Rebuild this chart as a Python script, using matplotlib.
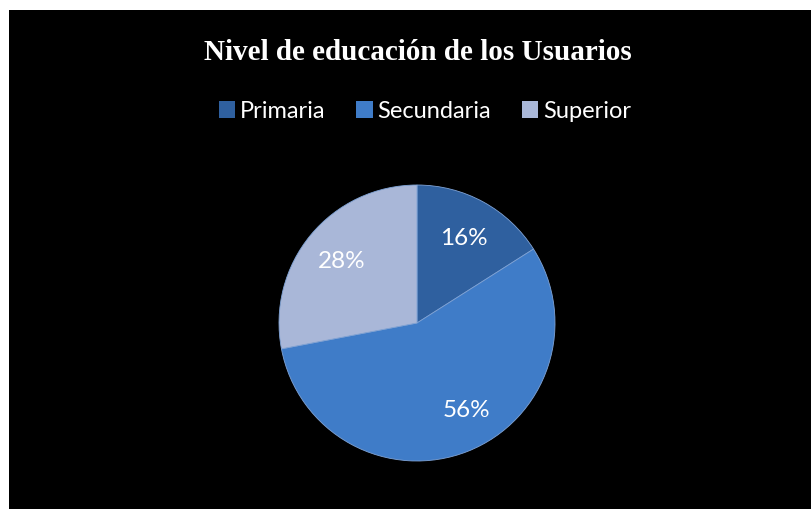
import numpy as np
import matplotlib.pyplot as plt
from matplotlib.patches import Rectangle, Patch

# data
categories = ['Primaria', 'Secundaria', 'Superior']
shares = [16, 56, 28]
colors = ['#2f609f', '#3f7cc8', '#a9b7d8']

title = 'Nivel de educación de los Usuarios'

W, H = 811, 510
fig = plt.figure(figsize=(W / 100, H / 100), dpi=100)
fig.patch.set_facecolor('white')

# black chart area (thin white margin top/left)
fig.patches.append(Rectangle((9 / W, 0), 1 - 9 / W, 1 - 11 / H,
                             transform=fig.transFigure, facecolor='black',
                             edgecolor='none', zorder=-5))

fig.text(418 / W, 1 - 52 / H, title, ha='center', va='center', color='white',
         fontsize=21, fontweight='bold', family='Liberation Serif')

# pie
cx, cy, r = 417, 324, 138
ax = fig.add_axes([(cx - r) / W, (H - cy - r) / H, 2 * r / W, 2 * r / H])
ax.set_facecolor('none')
wedges, texts, autotexts = ax.pie(
    shares, colors=colors, startangle=90, counterclock=False,
    autopct='%d%%', pctdistance=0.71,
    wedgeprops=dict(edgecolor='#7fa3d6', linewidth=0.6),
    textprops=dict(color='white', fontsize=17.5, family='Lato'))

# the big slice's label sits a bit further right, as in the original
x, y = autotexts[1].get_position()
ang = np.arctan2(y, x) + np.radians(8)
rr = np.hypot(x, y) + 0.01
autotexts[1].set_position((rr * np.cos(ang), rr * np.sin(ang)))

ax.set_xlim(-1, 1)
ax.set_ylim(-1, 1)
ax.set_aspect('equal')
ax.axis('off')

handles = [Patch(facecolor=c, edgecolor='none') for c in colors]
fig.legend(handles, categories, loc='center', bbox_to_anchor=(425 / W, 1 - 112 / H),
           ncol=3, frameon=False, handlelength=0.7, handleheight=0.7,
           handletextpad=0.2, columnspacing=1.3, labelcolor='white',
           prop=dict(family='Lato', size=17))

plt.savefig('out.png', dpi=100, facecolor=fig.get_facecolor())
